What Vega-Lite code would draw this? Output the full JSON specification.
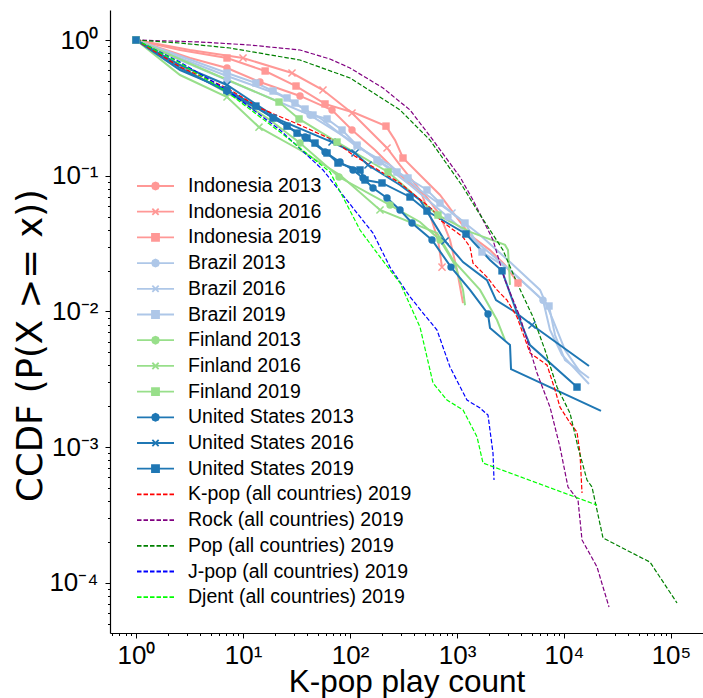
{
  "$schema": "https://vega.github.io/schema/vega-lite/v6.json",
  "width": 593,
  "height": 623,
  "autosize": "none",
  "padding": {"left": 110, "top": 10, "right": 0, "bottom": 65},
  "background": "white",
  "config": {
    "view": {"stroke": null},
    "axis": {"grid": false, "domainColor": "black", "domainWidth": 1.2, "tickColor": "black", "tickWidth": 1, "labelColor": "black", "titleColor": "black", "titleFontWeight": "normal", "labelOverlap": false, "labelFlush": false}
  },
  "datasets": {
    "countries": [
      {"series": "Indonesia 2013", "x": 1, "y": 1},
      {"series": "Indonesia 2013", "x": 3.2, "y": 0.737},
      {"series": "Indonesia 2013", "x": 7.09, "y": 0.622},
      {"series": "Indonesia 2013", "x": 14.4, "y": 0.49},
      {"series": "Indonesia 2013", "x": 34.1, "y": 0.387},
      {"series": "Indonesia 2013", "x": 67.9, "y": 0.305},
      {"series": "Indonesia 2013", "x": 104.4, "y": 0.217},
      {"series": "Indonesia 2013", "x": 171.3, "y": 0.1547},
      {"series": "Indonesia 2013", "x": 293.4, "y": 0.1012},
      {"series": "Indonesia 2013", "x": 502.2, "y": 0.0721},
      {"series": "Indonesia 2013", "x": 693.7, "y": 0.0513},
      {"series": "Indonesia 2013", "x": 860.3, "y": 0.0336},
      {"series": "Indonesia 2013", "x": 1000, "y": 0.0202},
      {"series": "Indonesia 2013", "x": 1138, "y": 0.0115},
      {"series": "Indonesia 2016", "x": 1, "y": 1},
      {"series": "Indonesia 2016", "x": 3.2, "y": 0.844},
      {"series": "Indonesia 2016", "x": 10, "y": 0.737},
      {"series": "Indonesia 2016", "x": 28.7, "y": 0.571},
      {"series": "Indonesia 2016", "x": 55.9, "y": 0.428},
      {"series": "Indonesia 2016", "x": 104.4, "y": 0.29},
      {"series": "Indonesia 2016", "x": 221.8, "y": 0.16},
      {"series": "Indonesia 2016", "x": 293.4, "y": 0.1199},
      {"series": "Indonesia 2016", "x": 451, "y": 0.0785},
      {"series": "Indonesia 2016", "x": 559.4, "y": 0.0513},
      {"series": "Indonesia 2016", "x": 664.4, "y": 0.0336},
      {"series": "Indonesia 2016", "x": 724.2, "y": 0.0212},
      {"series": "Indonesia 2019", "x": 1, "y": 1},
      {"series": "Indonesia 2019", "x": 2.58, "y": 0.844},
      {"series": "Indonesia 2019", "x": 7.09, "y": 0.737},
      {"series": "Indonesia 2019", "x": 16.1, "y": 0.591},
      {"series": "Indonesia 2019", "x": 31.3, "y": 0.458},
      {"series": "Indonesia 2019", "x": 58.4, "y": 0.338},
      {"series": "Indonesia 2019", "x": 111.4, "y": 0.29},
      {"series": "Indonesia 2019", "x": 217, "y": 0.232},
      {"series": "Indonesia 2019", "x": 263.4, "y": 0.183},
      {"series": "Indonesia 2019", "x": 312.8, "y": 0.135},
      {"series": "Indonesia 2019", "x": 451, "y": 0.1012},
      {"series": "Indonesia 2019", "x": 693.7, "y": 0.0721},
      {"series": "Indonesia 2019", "x": 957.9, "y": 0.0513},
      {"series": "Indonesia 2019", "x": 1323, "y": 0.0366},
      {"series": "Indonesia 2019", "x": 2034, "y": 0.0283},
      {"series": "Indonesia 2019", "x": 2809, "y": 0.022},
      {"series": "Indonesia 2019", "x": 3717, "y": 0.0162},
      {"series": "Brazil 2013", "x": 1, "y": 1},
      {"series": "Brazil 2013", "x": 2.58, "y": 0.712},
      {"series": "Brazil 2013", "x": 7.09, "y": 0.507},
      {"series": "Brazil 2013", "x": 17.9, "y": 0.374},
      {"series": "Brazil 2013", "x": 42.3, "y": 0.28},
      {"series": "Brazil 2013", "x": 100, "y": 0.183},
      {"series": "Brazil 2013", "x": 190.7, "y": 0.1262},
      {"series": "Brazil 2013", "x": 363.7, "y": 0.0854},
      {"series": "Brazil 2013", "x": 824.1, "y": 0.0496},
      {"series": "Brazil 2013", "x": 1641, "y": 0.0309},
      {"series": "Brazil 2013", "x": 3129, "y": 0.0202},
      {"series": "Brazil 2013", "x": 6365, "y": 0.0121},
      {"series": "Brazil 2013", "x": 7400, "y": 0.00729},
      {"series": "Brazil 2013", "x": 9579, "y": 0.00477},
      {"series": "Brazil 2013", "x": 17126, "y": 0.00292},
      {"series": "Brazil 2016", "x": 1, "y": 1},
      {"series": "Brazil 2016", "x": 2.58, "y": 0.737},
      {"series": "Brazil 2016", "x": 7.09, "y": 0.543},
      {"series": "Brazil 2016", "x": 22.2, "y": 0.393},
      {"series": "Brazil 2016", "x": 52.4, "y": 0.266},
      {"series": "Brazil 2016", "x": 116.3, "y": 0.163},
      {"series": "Brazil 2016", "x": 236.5, "y": 0.1199},
      {"series": "Brazil 2016", "x": 451, "y": 0.0785},
      {"series": "Brazil 2016", "x": 898, "y": 0.0531},
      {"series": "Brazil 2016", "x": 1641, "y": 0.0366},
      {"series": "Brazil 2016", "x": 3129, "y": 0.0231},
      {"series": "Brazil 2016", "x": 5968, "y": 0.0144},
      {"series": "Brazil 2016", "x": 7894, "y": 0.00864},
      {"series": "Brazil 2016", "x": 10217, "y": 0.00519},
      {"series": "Brazil 2016", "x": 14108, "y": 0.00358},
      {"series": "Brazil 2019", "x": 1, "y": 1},
      {"series": "Brazil 2019", "x": 7.09, "y": 0.571},
      {"series": "Brazil 2019", "x": 13.2, "y": 0.482},
      {"series": "Brazil 2019", "x": 19.1, "y": 0.421},
      {"series": "Brazil 2019", "x": 25.8, "y": 0.374},
      {"series": "Brazil 2019", "x": 30.6, "y": 0.343},
      {"series": "Brazil 2019", "x": 38, "y": 0.31},
      {"series": "Brazil 2019", "x": 45.1, "y": 0.28},
      {"series": "Brazil 2019", "x": 61, "y": 0.262},
      {"series": "Brazil 2019", "x": 84.2, "y": 0.217},
      {"series": "Brazil 2019", "x": 116.3, "y": 0.168},
      {"series": "Brazil 2019", "x": 178.8, "y": 0.1305},
      {"series": "Brazil 2019", "x": 275, "y": 0.1065},
      {"series": "Brazil 2019", "x": 348.4, "y": 0.0962},
      {"series": "Brazil 2019", "x": 524.3, "y": 0.0785},
      {"series": "Brazil 2019", "x": 693.7, "y": 0.0629},
      {"series": "Brazil 2019", "x": 1188, "y": 0.0448},
      {"series": "Brazil 2019", "x": 1713, "y": 0.0274},
      {"series": "Brazil 2019", "x": 3129, "y": 0.0202},
      {"series": "Brazil 2019", "x": 7243, "y": 0.01096},
      {"series": "Brazil 2019", "x": 8242, "y": 0.0067},
      {"series": "Brazil 2019", "x": 10217, "y": 0.00438},
      {"series": "Brazil 2019", "x": 17126, "y": 0.00323},
      {"series": "Finland 2013", "x": 1, "y": 1},
      {"series": "Finland 2013", "x": 3.2, "y": 0.581},
      {"series": "Finland 2013", "x": 9.38, "y": 0.361},
      {"series": "Finland 2013", "x": 17.9, "y": 0.257},
      {"series": "Finland 2013", "x": 34.1, "y": 0.174},
      {"series": "Finland 2013", "x": 78.9, "y": 0.0978},
      {"series": "Finland 2013", "x": 236.5, "y": 0.0608},
      {"series": "Finland 2013", "x": 451, "y": 0.0456},
      {"series": "Finland 2013", "x": 693.7, "y": 0.0336},
      {"series": "Finland 2013", "x": 957.9, "y": 0.022},
      {"series": "Finland 2013", "x": 1138, "y": 0.0144},
      {"series": "Finland 2013", "x": 1188, "y": 0.0111},
      {"series": "Finland 2016", "x": 1, "y": 1},
      {"series": "Finland 2016", "x": 2.58, "y": 0.552},
      {"series": "Finland 2016", "x": 7.09, "y": 0.38},
      {"series": "Finland 2016", "x": 14.1, "y": 0.228},
      {"series": "Finland 2016", "x": 34.1, "y": 0.1547},
      {"series": "Finland 2016", "x": 80.6, "y": 0.1012},
      {"series": "Finland 2016", "x": 190.7, "y": 0.0559},
      {"series": "Finland 2016", "x": 650.3, "y": 0.0378},
      {"series": "Finland 2016", "x": 917.6, "y": 0.0239},
      {"series": "Finland 2016", "x": 1641, "y": 0.0144},
      {"series": "Finland 2016", "x": 2365, "y": 0.00864},
      {"series": "Finland 2016", "x": 2809, "y": 0.00615},
      {"series": "Finland 2019", "x": 1, "y": 1},
      {"series": "Finland 2019", "x": 3.96, "y": 0.622},
      {"series": "Finland 2019", "x": 21.7, "y": 0.349},
      {"series": "Finland 2019", "x": 33.4, "y": 0.262},
      {"series": "Finland 2019", "x": 75.6, "y": 0.177},
      {"series": "Finland 2019", "x": 226.5, "y": 0.1065},
      {"series": "Finland 2019", "x": 451, "y": 0.0662},
      {"series": "Finland 2019", "x": 664.4, "y": 0.0513},
      {"series": "Finland 2019", "x": 1323, "y": 0.0385},
      {"series": "Finland 2019", "x": 2809, "y": 0.0309},
      {"series": "Finland 2019", "x": 2997, "y": 0.0283},
      {"series": "Finland 2019", "x": 3129, "y": 0.0157},
      {"series": "United States 2013", "x": 1, "y": 1},
      {"series": "United States 2013", "x": 2.58, "y": 0.622},
      {"series": "United States 2013", "x": 7.09, "y": 0.414},
      {"series": "United States 2013", "x": 14.4, "y": 0.305},
      {"series": "United States 2013", "x": 38, "y": 0.193},
      {"series": "United States 2013", "x": 58.4, "y": 0.1495},
      {"series": "United States 2013", "x": 80.6, "y": 0.1262},
      {"series": "United States 2013", "x": 106.7, "y": 0.1102},
      {"series": "United States 2013", "x": 132.3, "y": 0.0962},
      {"series": "United States 2013", "x": 164.1, "y": 0.0812},
      {"series": "United States 2013", "x": 221.8, "y": 0.0685},
      {"series": "United States 2013", "x": 293.4, "y": 0.0559},
      {"series": "United States 2013", "x": 379.7, "y": 0.0448},
      {"series": "United States 2013", "x": 584, "y": 0.0336},
      {"series": "United States 2013", "x": 878.9, "y": 0.0212},
      {"series": "United States 2013", "x": 1323, "y": 0.0144},
      {"series": "United States 2013", "x": 1949, "y": 0.00957},
      {"series": "United States 2013", "x": 2034, "y": 0.00755},
      {"series": "United States 2013", "x": 3129, "y": 0.00565},
      {"series": "United States 2013", "x": 3197, "y": 0.00376},
      {"series": "United States 2013", "x": 22170, "y": 0.00185},
      {"series": "United States 2016", "x": 1, "y": 1},
      {"series": "United States 2016", "x": 2.58, "y": 0.654},
      {"series": "United States 2016", "x": 7.09, "y": 0.466},
      {"series": "United States 2016", "x": 22.2, "y": 0.257},
      {"series": "United States 2016", "x": 67.9, "y": 0.177},
      {"series": "United States 2016", "x": 111.4, "y": 0.147},
      {"series": "United States 2016", "x": 147.3, "y": 0.1199},
      {"series": "United States 2016", "x": 293.4, "y": 0.0854},
      {"series": "United States 2016", "x": 451, "y": 0.0662},
      {"series": "United States 2016", "x": 772.6, "y": 0.033},
      {"series": "United States 2016", "x": 1138, "y": 0.0231},
      {"series": "United States 2016", "x": 1907, "y": 0.017},
      {"series": "United States 2016", "x": 2314, "y": 0.0121},
      {"series": "United States 2016", "x": 3484, "y": 0.0099},
      {"series": "United States 2016", "x": 5022, "y": 0.00794},
      {"series": "United States 2016", "x": 17126, "y": 0.00396},
      {"series": "United States 2019", "x": 1, "y": 1},
      {"series": "United States 2019", "x": 2.58, "y": 0.601},
      {"series": "United States 2019", "x": 7.09, "y": 0.428},
      {"series": "United States 2019", "x": 13.2, "y": 0.326},
      {"series": "United States 2019", "x": 19.1, "y": 0.266},
      {"series": "United States 2019", "x": 25.8, "y": 0.232},
      {"series": "United States 2019", "x": 32, "y": 0.206},
      {"series": "United States 2019", "x": 39.6, "y": 0.1896},
      {"series": "United States 2019", "x": 47.1, "y": 0.174},
      {"series": "United States 2019", "x": 61, "y": 0.147},
      {"series": "United States 2019", "x": 77.2, "y": 0.124},
      {"series": "United States 2019", "x": 124, "y": 0.1102},
      {"series": "United States 2019", "x": 138.1, "y": 0.093},
      {"series": "United States 2019", "x": 199.1, "y": 0.0884},
      {"series": "United States 2019", "x": 363.7, "y": 0.0697},
      {"series": "United States 2019", "x": 524.3, "y": 0.0549},
      {"series": "United States 2019", "x": 1214, "y": 0.0372},
      {"series": "United States 2019", "x": 2034, "y": 0.0239},
      {"series": "United States 2019", "x": 2634, "y": 0.0199},
      {"series": "United States 2019", "x": 3637, "y": 0.00973},
      {"series": "United States 2019", "x": 4810, "y": 0.00565},
      {"series": "United States 2019", "x": 13226, "y": 0.00277}
    ],
    "genres": [
      {"series": "K-pop (all countries) 2019", "x": 1, "y": 1},
      {"series": "K-pop (all countries) 2019", "x": 2.58, "y": 0.633},
      {"series": "K-pop (all countries) 2019", "x": 7.09, "y": 0.443},
      {"series": "K-pop (all countries) 2019", "x": 14.4, "y": 0.315},
      {"series": "K-pop (all countries) 2019", "x": 34.1, "y": 0.236},
      {"series": "K-pop (all countries) 2019", "x": 69.4, "y": 0.183},
      {"series": "K-pop (all countries) 2019", "x": 106.7, "y": 0.1421},
      {"series": "K-pop (all countries) 2019", "x": 293.4, "y": 0.0884},
      {"series": "K-pop (all countries) 2019", "x": 596.7, "y": 0.0559},
      {"series": "K-pop (all countries) 2019", "x": 693.7, "y": 0.0472},
      {"series": "K-pop (all countries) 2019", "x": 1138, "y": 0.0353},
      {"series": "K-pop (all countries) 2019", "x": 1323, "y": 0.0298},
      {"series": "K-pop (all countries) 2019", "x": 1411, "y": 0.0227},
      {"series": "K-pop (all countries) 2019", "x": 1907, "y": 0.0179},
      {"series": "K-pop (all countries) 2019", "x": 2365, "y": 0.0144},
      {"series": "K-pop (all countries) 2019", "x": 2933, "y": 0.0121},
      {"series": "K-pop (all countries) 2019", "x": 3637, "y": 0.0091},
      {"series": "K-pop (all countries) 2019", "x": 4810, "y": 0.00494},
      {"series": "K-pop (all countries) 2019", "x": 6937, "y": 0.00403},
      {"series": "K-pop (all countries) 2019", "x": 8242, "y": 0.00264},
      {"series": "K-pop (all countries) 2019", "x": 9176, "y": 0.00197},
      {"series": "K-pop (all countries) 2019", "x": 11379, "y": 0.00151},
      {"series": "K-pop (all countries) 2019", "x": 13226, "y": 0.00129},
      {"series": "K-pop (all countries) 2019", "x": 14108, "y": 0.000904},
      {"series": "K-pop (all countries) 2019", "x": 14733, "y": 0.000459},
      {"series": "Rock (all countries) 2019", "x": 1, "y": 1},
      {"series": "Rock (all countries) 2019", "x": 3.96, "y": 0.967},
      {"series": "Rock (all countries) 2019", "x": 11.6, "y": 0.919},
      {"series": "Rock (all countries) 2019", "x": 34.1, "y": 0.844},
      {"series": "Rock (all countries) 2019", "x": 65, "y": 0.724},
      {"series": "Rock (all countries) 2019", "x": 100, "y": 0.622},
      {"series": "Rock (all countries) 2019", "x": 203.4, "y": 0.443},
      {"series": "Rock (all countries) 2019", "x": 363.7, "y": 0.305},
      {"series": "Rock (all countries) 2019", "x": 596.7, "y": 0.183},
      {"series": "Rock (all countries) 2019", "x": 1067, "y": 0.0978},
      {"series": "Rock (all countries) 2019", "x": 1411, "y": 0.0662},
      {"series": "Rock (all countries) 2019", "x": 2170, "y": 0.0336},
      {"series": "Rock (all countries) 2019", "x": 2809, "y": 0.017},
      {"series": "Rock (all countries) 2019", "x": 3880, "y": 0.0091},
      {"series": "Rock (all countries) 2019", "x": 5594, "y": 0.00352},
      {"series": "Rock (all countries) 2019", "x": 7400, "y": 0.00197},
      {"series": "Rock (all countries) 2019", "x": 9176, "y": 0.001},
      {"series": "Rock (all countries) 2019", "x": 10899, "y": 0.000508},
      {"series": "Rock (all countries) 2019", "x": 13513, "y": 0.000408},
      {"series": "Rock (all countries) 2019", "x": 14733, "y": 0.000207},
      {"series": "Rock (all countries) 2019", "x": 20337, "y": 0.000131},
      {"series": "Rock (all countries) 2019", "x": 26342, "y": 0.0000663},
      {"series": "Pop (all countries) 2019", "x": 1, "y": 1},
      {"series": "Pop (all countries) 2019", "x": 2.58, "y": 0.95},
      {"series": "Pop (all countries) 2019", "x": 7.56, "y": 0.873},
      {"series": "Pop (all countries) 2019", "x": 34.1, "y": 0.712},
      {"series": "Pop (all countries) 2019", "x": 100, "y": 0.525},
      {"series": "Pop (all countries) 2019", "x": 293.4, "y": 0.305},
      {"series": "Pop (all countries) 2019", "x": 559.4, "y": 0.183},
      {"series": "Pop (all countries) 2019", "x": 1138, "y": 0.0826},
      {"series": "Pop (all countries) 2019", "x": 1538, "y": 0.0559},
      {"series": "Pop (all countries) 2019", "x": 2691, "y": 0.0283},
      {"series": "Pop (all countries) 2019", "x": 3637, "y": 0.0162},
      {"series": "Pop (all countries) 2019", "x": 5132, "y": 0.0091},
      {"series": "Pop (all countries) 2019", "x": 6644, "y": 0.00519},
      {"series": "Pop (all countries) 2019", "x": 8603, "y": 0.00277},
      {"series": "Pop (all countries) 2019", "x": 11379, "y": 0.00178},
      {"series": "Pop (all countries) 2019", "x": 13513, "y": 0.001},
      {"series": "Pop (all countries) 2019", "x": 16405, "y": 0.000572},
      {"series": "Pop (all countries) 2019", "x": 18272, "y": 0.000508},
      {"series": "Pop (all countries) 2019", "x": 23145, "y": 0.000214},
      {"series": "Pop (all countries) 2019", "x": 63650, "y": 0.000142},
      {"series": "Pop (all countries) 2019", "x": 113800, "y": 0.000071},
      {"series": "J-pop (all countries) 2019", "x": 1, "y": 1},
      {"series": "J-pop (all countries) 2019", "x": 2.58, "y": 0.688},
      {"series": "J-pop (all countries) 2019", "x": 7.09, "y": 0.428},
      {"series": "J-pop (all countries) 2019", "x": 22.2, "y": 0.217},
      {"series": "J-pop (all countries) 2019", "x": 55.9, "y": 0.1102},
      {"series": "J-pop (all countries) 2019", "x": 116.3, "y": 0.0531},
      {"series": "J-pop (all countries) 2019", "x": 164.1, "y": 0.0378},
      {"series": "J-pop (all countries) 2019", "x": 236.5, "y": 0.0212},
      {"series": "J-pop (all countries) 2019", "x": 363.7, "y": 0.0128},
      {"series": "J-pop (all countries) 2019", "x": 481.2, "y": 0.00973},
      {"series": "J-pop (all countries) 2019", "x": 650.3, "y": 0.00729},
      {"series": "J-pop (all countries) 2019", "x": 860.3, "y": 0.00389},
      {"series": "J-pop (all countries) 2019", "x": 1240, "y": 0.00222},
      {"series": "J-pop (all countries) 2019", "x": 1641, "y": 0.00194},
      {"series": "J-pop (all countries) 2019", "x": 1949, "y": 0.00172},
      {"series": "J-pop (all countries) 2019", "x": 2170, "y": 0.000904},
      {"series": "J-pop (all countries) 2019", "x": 2218, "y": 0.000572},
      {"series": "Djent (all countries) 2019", "x": 1, "y": 1},
      {"series": "Djent (all countries) 2019", "x": 2.58, "y": 0.677},
      {"series": "Djent (all countries) 2019", "x": 7.09, "y": 0.414},
      {"series": "Djent (all countries) 2019", "x": 22.2, "y": 0.2099},
      {"series": "Djent (all countries) 2019", "x": 65, "y": 0.1065},
      {"series": "Djent (all countries) 2019", "x": 124, "y": 0.0398},
      {"series": "Djent (all countries) 2019", "x": 190.7, "y": 0.0252},
      {"series": "Djent (all countries) 2019", "x": 293.4, "y": 0.0162},
      {"series": "Djent (all countries) 2019", "x": 451, "y": 0.00767},
      {"series": "Djent (all countries) 2019", "x": 596.7, "y": 0.00297},
      {"series": "Djent (all countries) 2019", "x": 806.3, "y": 0.00222},
      {"series": "Djent (all countries) 2019", "x": 1138, "y": 0.00188},
      {"series": "Djent (all countries) 2019", "x": 1538, "y": 0.00119},
      {"series": "Djent (all countries) 2019", "x": 1750, "y": 0.000763},
      {"series": "Djent (all countries) 2019", "x": 20337, "y": 0.000374}
    ],
    "markers": [
      {"series": "Indonesia 2013", "x": 1, "y": 1},
      {"series": "Indonesia 2013", "x": 7.09, "y": 0.622},
      {"series": "Indonesia 2013", "x": 14.4, "y": 0.49},
      {"series": "Indonesia 2013", "x": 34.1, "y": 0.387},
      {"series": "Indonesia 2013", "x": 67.9, "y": 0.305},
      {"series": "Indonesia 2013", "x": 104.4, "y": 0.217},
      {"series": "Brazil 2013", "x": 1, "y": 1},
      {"series": "Brazil 2013", "x": 7.09, "y": 0.507},
      {"series": "Brazil 2013", "x": 42.3, "y": 0.28},
      {"series": "Brazil 2013", "x": 190.7, "y": 0.1262},
      {"series": "Brazil 2013", "x": 824.1, "y": 0.0496},
      {"series": "Brazil 2013", "x": 6365, "y": 0.0121},
      {"series": "Finland 2013", "x": 1, "y": 1},
      {"series": "Finland 2013", "x": 34.1, "y": 0.174},
      {"series": "Finland 2013", "x": 78.9, "y": 0.0978},
      {"series": "Finland 2013", "x": 236.5, "y": 0.0608},
      {"series": "Finland 2013", "x": 693.7, "y": 0.0336},
      {"series": "United States 2013", "x": 1, "y": 1},
      {"series": "United States 2013", "x": 7.09, "y": 0.414},
      {"series": "United States 2013", "x": 38, "y": 0.193},
      {"series": "United States 2013", "x": 58.4, "y": 0.1495},
      {"series": "United States 2013", "x": 80.6, "y": 0.1262},
      {"series": "United States 2013", "x": 106.7, "y": 0.1102},
      {"series": "United States 2013", "x": 132.3, "y": 0.0962},
      {"series": "United States 2013", "x": 164.1, "y": 0.0812},
      {"series": "United States 2013", "x": 221.8, "y": 0.0685},
      {"series": "United States 2013", "x": 293.4, "y": 0.0559},
      {"series": "United States 2013", "x": 379.7, "y": 0.0448},
      {"series": "United States 2013", "x": 584, "y": 0.0336},
      {"series": "United States 2013", "x": 878.9, "y": 0.0212},
      {"series": "United States 2013", "x": 1949, "y": 0.00957},
      {"series": "Indonesia 2016", "x": 1, "y": 1},
      {"series": "Indonesia 2016", "x": 10, "y": 0.737},
      {"series": "Indonesia 2016", "x": 28.7, "y": 0.571},
      {"series": "Indonesia 2016", "x": 55.9, "y": 0.428},
      {"series": "Indonesia 2016", "x": 104.4, "y": 0.29},
      {"series": "Indonesia 2016", "x": 221.8, "y": 0.16},
      {"series": "Indonesia 2016", "x": 724.2, "y": 0.0212},
      {"series": "Brazil 2016", "x": 1, "y": 1},
      {"series": "Brazil 2016", "x": 7.09, "y": 0.543},
      {"series": "Brazil 2016", "x": 116.3, "y": 0.163},
      {"series": "Brazil 2016", "x": 898, "y": 0.0531},
      {"series": "Finland 2016", "x": 1, "y": 1},
      {"series": "Finland 2016", "x": 7.09, "y": 0.38},
      {"series": "Finland 2016", "x": 14.1, "y": 0.228},
      {"series": "Finland 2016", "x": 190.7, "y": 0.0559},
      {"series": "United States 2016", "x": 1, "y": 1},
      {"series": "United States 2016", "x": 7.09, "y": 0.466},
      {"series": "United States 2016", "x": 67.9, "y": 0.177},
      {"series": "United States 2016", "x": 111.4, "y": 0.147},
      {"series": "United States 2016", "x": 147.3, "y": 0.1199},
      {"series": "United States 2016", "x": 772.6, "y": 0.033},
      {"series": "United States 2016", "x": 5022, "y": 0.00794},
      {"series": "Indonesia 2019", "x": 1, "y": 1},
      {"series": "Indonesia 2019", "x": 7.09, "y": 0.737},
      {"series": "Indonesia 2019", "x": 16.1, "y": 0.591},
      {"series": "Indonesia 2019", "x": 31.3, "y": 0.458},
      {"series": "Indonesia 2019", "x": 58.4, "y": 0.338},
      {"series": "Indonesia 2019", "x": 217, "y": 0.232},
      {"series": "Indonesia 2019", "x": 312.8, "y": 0.135},
      {"series": "Indonesia 2019", "x": 3717, "y": 0.0162},
      {"series": "Brazil 2019", "x": 1, "y": 1},
      {"series": "Brazil 2019", "x": 7.09, "y": 0.571},
      {"series": "Brazil 2019", "x": 13.2, "y": 0.482},
      {"series": "Brazil 2019", "x": 19.1, "y": 0.421},
      {"series": "Brazil 2019", "x": 25.8, "y": 0.374},
      {"series": "Brazil 2019", "x": 30.6, "y": 0.343},
      {"series": "Brazil 2019", "x": 38, "y": 0.31},
      {"series": "Brazil 2019", "x": 45.1, "y": 0.28},
      {"series": "Brazil 2019", "x": 61, "y": 0.262},
      {"series": "Brazil 2019", "x": 84.2, "y": 0.217},
      {"series": "Brazil 2019", "x": 116.3, "y": 0.168},
      {"series": "Brazil 2019", "x": 178.8, "y": 0.1305},
      {"series": "Brazil 2019", "x": 275, "y": 0.1065},
      {"series": "Brazil 2019", "x": 348.4, "y": 0.0962},
      {"series": "Brazil 2019", "x": 524.3, "y": 0.0785},
      {"series": "Brazil 2019", "x": 693.7, "y": 0.0629},
      {"series": "Brazil 2019", "x": 1188, "y": 0.0448},
      {"series": "Brazil 2019", "x": 1713, "y": 0.0274},
      {"series": "Brazil 2019", "x": 7243, "y": 0.01096},
      {"series": "Finland 2019", "x": 1, "y": 1},
      {"series": "Finland 2019", "x": 21.7, "y": 0.349},
      {"series": "Finland 2019", "x": 33.4, "y": 0.262},
      {"series": "Finland 2019", "x": 75.6, "y": 0.177},
      {"series": "Finland 2019", "x": 226.5, "y": 0.1065},
      {"series": "Finland 2019", "x": 664.4, "y": 0.0513},
      {"series": "United States 2019", "x": 1, "y": 1},
      {"series": "United States 2019", "x": 7.09, "y": 0.428},
      {"series": "United States 2019", "x": 13.2, "y": 0.326},
      {"series": "United States 2019", "x": 19.1, "y": 0.266},
      {"series": "United States 2019", "x": 25.8, "y": 0.232},
      {"series": "United States 2019", "x": 32, "y": 0.206},
      {"series": "United States 2019", "x": 39.6, "y": 0.1896},
      {"series": "United States 2019", "x": 47.1, "y": 0.174},
      {"series": "United States 2019", "x": 61, "y": 0.147},
      {"series": "United States 2019", "x": 77.2, "y": 0.124},
      {"series": "United States 2019", "x": 124, "y": 0.1102},
      {"series": "United States 2019", "x": 138.1, "y": 0.093},
      {"series": "United States 2019", "x": 199.1, "y": 0.0884},
      {"series": "United States 2019", "x": 363.7, "y": 0.0697},
      {"series": "United States 2019", "x": 524.3, "y": 0.0549},
      {"series": "United States 2019", "x": 1214, "y": 0.0372},
      {"series": "United States 2019", "x": 2634, "y": 0.0199},
      {"series": "United States 2019", "x": 13226, "y": 0.00277}
    ]
  },
  "encoding": {
    "color": {
      "field": "series", "type": "nominal",
      "scale": {
        "domain": ["Indonesia 2013", "Indonesia 2016", "Indonesia 2019", "Brazil 2013", "Brazil 2016", "Brazil 2019", "Finland 2013", "Finland 2016", "Finland 2019", "United States 2013", "United States 2016", "United States 2019", "K-pop (all countries) 2019", "Rock (all countries) 2019", "Pop (all countries) 2019", "J-pop (all countries) 2019", "Djent (all countries) 2019"],
        "range": ["#ff9896", "#ff9896", "#ff9896", "#aec7e8", "#aec7e8", "#aec7e8", "#98df8a", "#98df8a", "#98df8a", "#1f77b4", "#1f77b4", "#1f77b4", "#ff0000", "#800080", "#008000", "#0000ff", "#00ff00"]
      },
      "legend": {
        "title": null,
        "orient": "none",
        "legendX": 26,
        "legendY": 164,
        "padding": 0,
        "symbolSize": 1369,
        "symbolStrokeWidth": 1.8,
        "clipHeight": 24,
        "rowPadding": 1.7,
        "labelFont": "Liberation Sans",
        "labelFontSize": 19.5,
        "labelColor": "black",
        "labelOffset": 13,
        "labelLimit": 500,
        "encode": {
          "symbols": {
            "update": {
              "shape": {"signal": "indexof(datum.value,'countries')>=0 ? 'M-1,0H1' : indexof(datum.value,'2013')>=0 ? 'M-1,0H1M0.19,0L0.134,0.134L0,0.19L-0.134,0.134L-0.19,0L-0.134,-0.134L0,-0.19L0.134,-0.134Z' : indexof(datum.value,'2016')>=0 ? 'M-1,0H1M-0.17,-0.17L0.17,0.17M-0.17,0.17L0.17,-0.17' : 'M-1,0H1M-0.19,-0.19H0.19V0.19H-0.19Z'"},
              "fill": {"signal": "scale('color', datum.value)"},
              "stroke": {"signal": "scale('color', datum.value)"},
              "strokeDash": {"signal": "indexof(datum.value,'countries')>=0 ? [4.5,2] : []"}
            }
          }
        }
      }
    }
  },
  "resolve": {"axis": {"x": "independent", "y": "independent"}},
  "layer": [
    {
      "data": {"name": "countries"},
      "mark": {"type": "line", "strokeWidth": 2},
      "encoding": {
        "x": {
          "field": "x", "type": "quantitative", "title": "K-pop play count",
          "scale": {"type": "log", "domain": [0.5714, 199100], "nice": false},
          "axis": {
            "orient": "bottom",
            "values": [1, 10, 100, 1000, 10000, 100000],
            "labelExpr": "'10' + replace(replace(replace(replace(replace(replace(replace('' + round(log(datum.value)/LN10), '-', '⁻'), '0', '⁰'), '1', '¹'), '2', '²'), '3', '³'), '4', '⁴'), '5', '⁵')",
            "tickSize": 5,
            "labelFont": "Liberation Sans",
            "labelFontSize": 26,
            "labelPadding": 4,
            "titleFont": "Liberation Sans",
            "titleFontSize": 31.5,
            "titleY": 58,
            "titleBaseline": "alphabetic"
          }
        },
        "y": {
          "field": "y", "type": "quantitative", "title": "CCDF (P(X >= x))",
          "scale": {"type": "log", "domain": [0.00004266, 1.664], "nice": false},
          "axis": {
            "orient": "left",
            "values": [0.0001, 0.001, 0.01, 0.1, 1],
            "labelExpr": "'10' + replace(replace(replace(replace(replace(replace(replace('' + round(log(datum.value)/LN10), '-', '⁻'), '0', '⁰'), '1', '¹'), '2', '²'), '3', '³'), '4', '⁴'), '5', '⁵')",
            "tickSize": 5,
            "labelFont": "Liberation Sans",
            "labelFontSize": 26,
            "labelPadding": 7,
            "titleFont": "DejaVu Sans",
            "titleFontSize": 35.5,
            "titleX": -69,
            "titleY": 335,
            "titleAlign": "center",
            "titleAngle": 270,
            "titleBaseline": "alphabetic"
          }
        }
      }
    },
    {
      "data": {"name": "genres"},
      "mark": {"type": "line", "strokeWidth": 1.2, "strokeDash": [4.5, 2]},
      "encoding": {
        "x": {
          "field": "x", "type": "quantitative", "title": null,
          "scale": {"type": "log", "domain": [0.5714, 199100], "nice": false},
          "axis": {"orient": "bottom", "labels": false, "domain": false, "tickSize": 2.5,
            "values": [0.6, 0.7, 0.8, 0.9, 2, 3, 4, 5, 6, 7, 8, 9, 20, 30, 40, 50, 60, 70, 80, 90, 200, 300, 400, 500, 600, 700, 800, 900, 2000, 3000, 4000, 5000, 6000, 7000, 8000, 9000, 20000, 30000, 40000, 50000, 60000, 70000, 80000, 90000]}
        },
        "y": {
          "field": "y", "type": "quantitative", "title": null,
          "scale": {"type": "log", "domain": [0.00004266, 1.664], "nice": false},
          "axis": {"orient": "left", "labels": false, "domain": false, "tickSize": 2.5,
            "values": [0.00005, 0.00006, 0.00007, 0.00008, 0.00009, 0.0002, 0.0003, 0.0004, 0.0005, 0.0006, 0.0007, 0.0008, 0.0009, 0.002, 0.003, 0.004, 0.005, 0.006, 0.007, 0.008, 0.009, 0.02, 0.03, 0.04, 0.05, 0.06, 0.07, 0.08, 0.09, 0.2, 0.3, 0.4, 0.5, 0.6, 0.7, 0.8, 0.9]}
        }
      }
    },
    {
      "data": {"name": "markers"},
      "transform": [{"filter": "indexof(datum.series,'2013')>=0"}],
      "mark": {"type": "point", "shape": "circle", "filled": true, "size": 55, "opacity": 1},
      "encoding": {
        "x": {"field": "x", "type": "quantitative", "scale": {"type": "log", "domain": [0.5714, 199100], "nice": false}, "axis": null},
        "y": {"field": "y", "type": "quantitative", "scale": {"type": "log", "domain": [0.00004266, 1.664], "nice": false}, "axis": null}
      }
    },
    {
      "data": {"name": "markers"},
      "transform": [{"filter": "indexof(datum.series,'2016')>=0"}],
      "mark": {"type": "point", "shape": "M-1,-1L1,1M-1,1L1,-1", "filled": false, "size": 50, "strokeWidth": 1.5, "opacity": 1},
      "encoding": {
        "x": {"field": "x", "type": "quantitative", "scale": {"type": "log", "domain": [0.5714, 199100], "nice": false}, "axis": null},
        "y": {"field": "y", "type": "quantitative", "scale": {"type": "log", "domain": [0.00004266, 1.664], "nice": false}, "axis": null}
      }
    },
    {
      "data": {"name": "markers"},
      "transform": [{"filter": "indexof(datum.series,'2019')>=0"}],
      "mark": {"type": "point", "shape": "square", "filled": true, "size": 55, "opacity": 1},
      "encoding": {
        "x": {"field": "x", "type": "quantitative", "scale": {"type": "log", "domain": [0.5714, 199100], "nice": false}, "axis": null},
        "y": {"field": "y", "type": "quantitative", "scale": {"type": "log", "domain": [0.00004266, 1.664], "nice": false}, "axis": null}
      }
    }
  ]
}
